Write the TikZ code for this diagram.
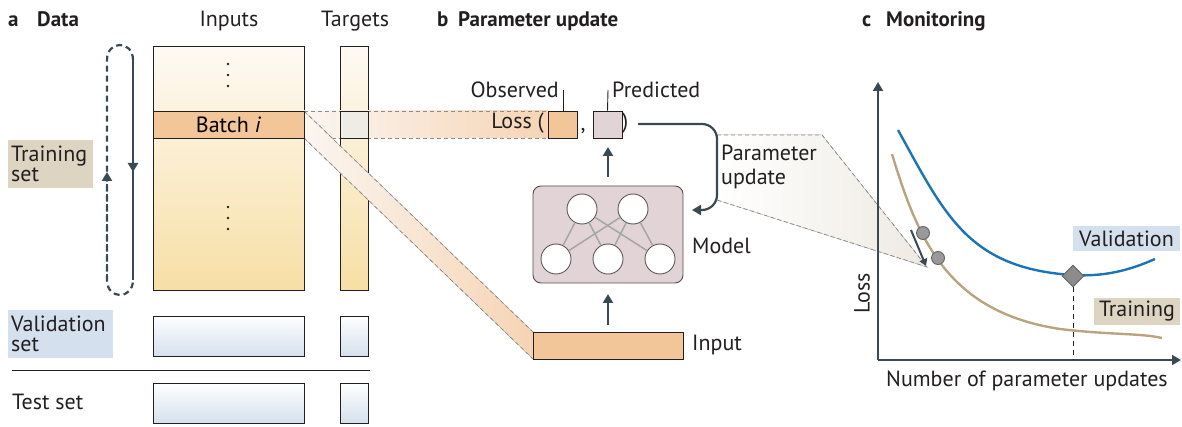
\documentclass[tikz,border=0pt]{standalone}
\usepackage{fontspec}
\setmainfont{PT Sans}
\usetikzlibrary{arrows.meta,shapes.geometric}
\definecolor{ink}{HTML}{231F20}
\definecolor{slate}{HTML}{3A4A53}
\definecolor{orng}{HTML}{F3C69A}
\definecolor{pinkg}{HTML}{E2D3D6}
\definecolor{tanl}{HTML}{DDD4C1}
\definecolor{bluel}{HTML}{D4E0ED}
\definecolor{yelb}{HTML}{F7DFA5}
\definecolor{yelt}{HTML}{FEFAF4}
\definecolor{vblue}{HTML}{1B75B5}
\definecolor{tcurve}{HTML}{B8A57F}
\definecolor{grayc}{HTML}{EFECE6}
\definecolor{bandg}{HTML}{EEEAE2}
\definecolor{bandl}{HTML}{FBF6F1}
\definecolor{bandr}{HTML}{F6D4B4}
\tikzset{
  txt/.style={inner sep=0pt, text=ink},
  ttl/.style={inner sep=0pt, text=ink, font=\fontsize{21}{23}\selectfont\bfseries},
  databox/.style={draw=ink, line width=0.9pt, inner sep=0pt},
  yelbox/.style={databox, top color=yelt, bottom color=yelb},
  blubox/.style={databox, top color=white, bottom color=bluel},
  lbl/.style={inner sep=0pt, text=ink, align=left, anchor=north west},
  arr/.style={draw=slate, line width=2.2pt, -{Triangle[length=9pt,width=10pt]}},
  plain/.style={draw=slate, line width=2.2pt},
  neuron/.style={circle, draw=ink!75, line width=0.9pt, fill=white, minimum size=30pt, inner sep=0pt},
  synapse/.style={draw=black!35, line width=1.5pt},
  dashg/.style={draw=black!45, line width=0.8pt, dash pattern=on 4pt off 3pt},
}
\begin{document}
\begin{tikzpicture}[x=1pt,y=-1pt, font=\fontsize{22}{22}\selectfont]
\useasboundingbox (0,0) rectangle (1182,427);

% ---------- titles ----------
\node[ttl, anchor=base west] (ta) at (8,27) {a};
\node[ttl, anchor=base west] (tData) at (37,27) {Data};
\node[ttl, anchor=base west] (tb) at (437,27) {b};
\node[ttl, anchor=base west] (tPar) at (458,27) {Parameter update};
\node[ttl, anchor=base west] (tc) at (862,27) {c};
\node[ttl, anchor=base west] (tMon) at (886,27) {Monitoring};

% ---------- panel a ----------
\node[txt, anchor=base] (hInp) at (229,27) {Inputs};
\node[txt, anchor=base] (hTgt) at (355,27) {Targets};

\node[yelbox, minimum width=151pt, minimum height=244pt] (inp) at (228.5,168) {};
\node[yelbox, minimum width=28pt, minimum height=244pt] (tgt) at (354,168) {};

% band to loss
\coordinate (b1) at (304,111);
\coordinate (b2) at (304,138);
\coordinate (o1) at (548,111);
\coordinate (o2) at (548,138);
\fill[left color=bandl, right color=bandr] (b1) -- (o1) -- (o2) -- (b2) -- cycle;
\draw[dashg] (b1) -- (o1);
\draw[dashg] (b2) -- (o2);

% diagonal band to input
\coordinate (i1) at (533,332);
\coordinate (i2) at (533,359);
\fill[left color=bandl, right color=bandr] (b1) -- (i1) -- (i2) -- (b2) -- cycle;
\draw[dashg] (b1) -- (i1);
\draw[dashg] (b2) -- (i2);

\node[databox, fill=orng, minimum width=151pt, minimum height=27pt] (batch) at (228.5,124.5) {Batch \textit{i}};
\node[databox, fill=grayc, minimum width=28pt, minimum height=27pt] (tbatch) at (354,124.5) {};

\foreach \yy in {64,75,86,207,218,229} \fill[ink] (228,\yy) circle (1.4pt);

% loop arrow
\coordinate (lt) at (133,60);
\coordinate (lb) at (133,280);
\coordinate (rt) at (107,60);
\coordinate (rb) at (107,280);
\draw[plain] (lt) -- (lb);
\draw[arr] (lt) -- (133,172);
\draw[slate, line width=2.2pt, dash pattern=on 6pt off 4pt]
  (lt) .. controls (133,40) and (107,40) .. (rt) -- (rb)
  .. controls (107,300) and (133,300) .. (lb);
\draw[arr, dash pattern=on 6pt off 4pt] (rb) -- (107,172);

\node[lbl, fill=tanl, minimum width=85pt, minimum height=48pt, text width=79pt, inner sep=3pt, font=\fontsize{22}{20}\selectfont] (train) at (8,140) {Training\\set};

\node[blubox, minimum width=151pt, minimum height=40pt] (vinp) at (228.5,336) {};
\node[blubox, minimum width=28pt, minimum height=40pt] (vtgt) at (354,336) {};
\node[lbl, fill=bluel, minimum width=105pt, minimum height=48pt, text width=99pt, inner sep=3pt, font=\fontsize{22}{20}\selectfont] (val) at (8,310) {Validation\\set};

\coordinate (s1) at (12,370);
\coordinate (s2) at (370,370);
\draw[ink, line width=1pt] (s1) -- (s2);

\node[txt, anchor=west] (test) at (12,402) {Test set};
\node[blubox, minimum width=151pt, minimum height=40pt] (tinp) at (228.5,403) {};
\node[blubox, minimum width=28pt, minimum height=40pt] (ttgt) at (354,403) {};

% ---------- panel b ----------
\node[databox, fill=orng, minimum width=29pt, minimum height=27pt] (obs) at (562.5,124.5) {};
\node[databox, fill=pinkg, minimum width=29pt, minimum height=27pt] (pred) at (607.5,124.5) {};
\node[txt, anchor=east] (loss) at (544,123) {Loss (};
\node[txt, anchor=base] (comma) at (583,131) {,};
\node[txt, anchor=west] (rpar) at (622,123) {)};

\node[txt, anchor=base east] (obsl) at (559,98) {Observed};
\node[txt, anchor=base west] (predl) at (612,98) {Predicted};
\draw[ink, line width=0.9pt] (563,90) -- (obs.north -| 563,0);
\draw[ink, line width=0.9pt] (608,90) -- (pred.north);

\node[draw=ink!80, line width=0.9pt, fill=pinkg, rounded corners=8pt, minimum width=150pt, minimum height=97pt, inner sep=0pt] (model) at (608,234.5) {};
\node[txt, anchor=west] (modell) at (692,246) {Model};

\node[neuron] (n1) at (582,209) {};
\node[neuron] (n2) at (633,209) {};
\node[neuron] (m1) at (556,259) {};
\node[neuron] (m2) at (608,259) {};
\node[neuron] (m3) at (660,259) {};
\foreach \a in {n1,n2} \foreach \b in {m1,m2,m3} \draw[synapse] (\a) -- (\b);

\node[databox, fill=orng, minimum width=150pt, minimum height=27pt] (input) at (608,346) {};
\node[txt, anchor=west] (inputl) at (692,345) {Input};

\draw[arr] (input.north |- 0,325) -- (608,294);
\draw[arr] (608,177) -- (608,147);

% grey band to monitoring
\coordinate (g1) at (717,135);
\coordinate (g2) at (822,135);
\coordinate (g3) at (927,267);
\coordinate (g4) at (717,200);
\fill[left color=white, right color=bandg] (g1) -- (g2) -- (g3) -- (g4) -- cycle;
\draw[dashg] (g1) -- (g2) -- (g3) -- (g4);

\coordinate (pu) at (638,124);
\coordinate (pe) at (692,210);
\draw[arr, rounded corners=15pt] (pu) -| (717,210) -- (pe);
\node[lbl, font=\fontsize{22}{24}\selectfont] (pul) at (721,145) {Parameter\\update};

% ---------- panel c ----------
\coordinate (org) at (878,360);
\coordinate (ytop) at (878,82);
\coordinate (xend) at (1181,360);
\draw[arr, line width=1.8pt] (org) -- (ytop);
\draw[arr, line width=1.8pt] (org) -- (xend);
\node[txt, rotate=90] (lossl) at (862,293) {Loss};
\node[txt, anchor=base west] (xl) at (886,386) {Number of parameter updates};

\draw[tcurve, line width=2.4pt] (892,154) .. controls (918,240) and (948,312) .. (1060,329)
  .. controls (1110,335) and (1140,333) .. (1162,338);
\draw[vblue, line width=2.4pt] (898,130) .. controls (945,215) and (968,268) .. (1072,275)
  .. controls (1105,277) and (1130,270) .. (1155,259);

\node[draw=ink!70, line width=0.9pt, fill=black!40, circle, minimum size=13pt, inner sep=0pt] (p1) at (923,233) {};
\node[draw=ink!70, line width=0.9pt, fill=black!40, circle, minimum size=13pt, inner sep=0pt] (p2) at (938,258) {};
\draw[arr, line width=2pt, -{Triangle[length=7pt,width=8pt]}] (911,230) -- (926,266);

\node[draw=ink!70, line width=0.9pt, fill=black!45, diamond, minimum size=22pt, inner sep=0pt] (dia) at (1073,276) {};
\draw[ink, line width=0.9pt, dash pattern=on 5pt off 4pt] (dia.south) -- (dia.south |- org);

\node[fill=bluel, text=ink, minimum width=107pt, minimum height=25pt, inner sep=3pt] (vall) at (1126.5,238.5) {Validation};
\node[fill=tanl, text=ink, minimum width=86pt, minimum height=27pt, inner sep=3pt] (trl) at (1137,311.5) {Training};

\end{tikzpicture}
\end{document}
